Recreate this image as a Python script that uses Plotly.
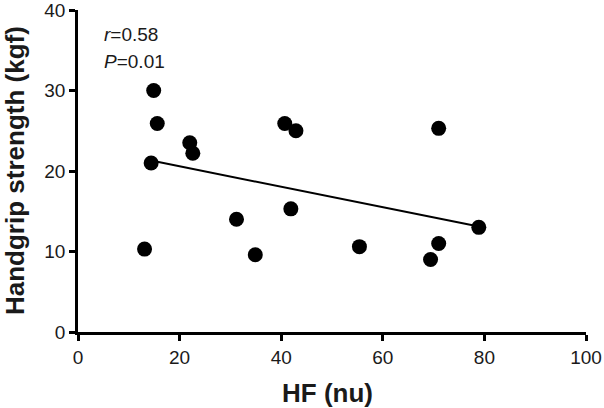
import plotly.graph_objects as go

hf_nu = [13.1, 14.4, 14.9, 15.6, 22.0, 22.6, 31.2, 34.9, 40.7, 41.9, 42.9, 55.4, 69.4, 71.0, 71.0, 78.9]
handgrip_kgf = [10.3, 21.0, 30.0, 25.9, 23.5, 22.2, 14.0, 9.6, 25.9, 15.3, 25.0, 10.6, 9.0, 11.0, 25.3, 13.0]

fit_x = [14.4, 78.9]
fit_y = [21.3, 13.1]

x_ticks = [0, 20, 40, 60, 80, 100]
y_ticks = [0, 10, 20, 30, 40]

font = "Liberation Sans, Arial, sans-serif"
ink = "#1a1a1a"

fig = go.Figure()
fig.add_trace(go.Scatter(
    x=fit_x, y=fit_y, mode="lines",
    line=dict(color="black", width=2), showlegend=False,
))
fig.add_trace(go.Scatter(
    x=hf_nu, y=handgrip_kgf, mode="markers",
    marker=dict(color="black", size=15), showlegend=False,
))

axis_common = dict(
    showline=True, linecolor="black", linewidth=2.5,
    ticks="outside", ticklen=6, tickwidth=2.5, tickcolor="black",
    showgrid=False, zeroline=False, automargin=False,
    ticklabeloverflow="allow",
    tickfont=dict(family=font, size=19, color=ink),
)

fig.update_xaxes(range=[0, 100], tickvals=x_ticks, **axis_common)
fig.update_yaxes(range=[0, 40], tickvals=y_ticks, **axis_common)

# axis titles placed by hand
fig.add_annotation(
    x=0.492, y=-0.188, xref="paper", yref="paper", xanchor="center", yanchor="middle",
    text="<b>HF (nu)</b>", showarrow=False,
    font=dict(family=font, size=26, color=ink),
)
fig.add_annotation(
    x=-0.124, y=0.5, xref="paper", yref="paper", xanchor="center", yanchor="middle",
    text="<b>Handgrip strength (kgf)</b>", showarrow=False, textangle=-90,
    font=dict(family=font, size=26, color=ink),
)

fig.add_annotation(
    x=4.8, y=37.0, xref="x", yref="y", xanchor="left", yanchor="middle",
    text="<i>r</i>=0.58", showarrow=False,
    font=dict(family=font, size=19, color=ink),
)
fig.add_annotation(
    x=4.8, y=33.6, xref="x", yref="y", xanchor="left", yanchor="middle",
    text="<i>P</i>=0.01", showarrow=False,
    font=dict(family=font, size=19, color=ink),
)

fig.update_layout(
    width=604, height=408,
    margin=dict(l=78, r=18, t=10, b=76),
    plot_bgcolor="white", paper_bgcolor="white",
)

# drop the page's default body margin so the figure sits at the window corner
fig.write_html(
    "out.html",
    config={"displayModeBar": False},
    post_script="document.body.style.margin='0';",
)
